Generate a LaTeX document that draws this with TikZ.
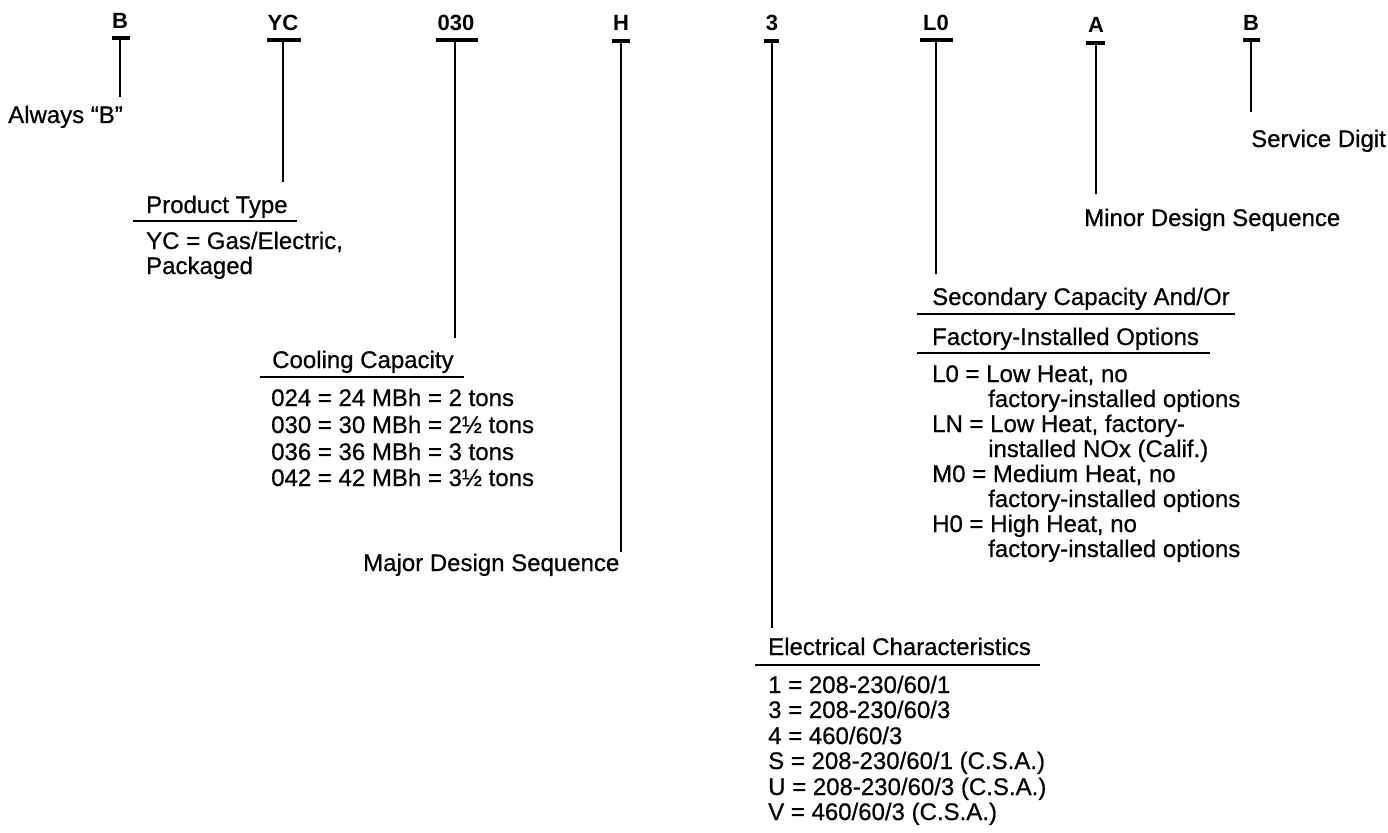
\documentclass[tikz,border=0pt]{standalone}
\usepackage{fontspec}
\setmainfont{Liberation Sans}
\newfontfamily\lblfont{Liberation Sans}[FakeBold=0.6]
\begin{document}
\begin{tikzpicture}[x=1pt,y=-1pt,
  code/.style={font=\fontsize{22}{22}\selectfont\bfseries, inner sep=0, anchor=base},
  lbl/.style={font=\lblfont\fontsize{24}{25}\selectfont, anchor=base west, inner sep=0},
  bar/.style={line width=3.5pt},
  stem/.style={line width=2.6pt},
  rulel/.style={line width=1.6pt}]
\useasboundingbox[fill=white] (0,0) rectangle (1388,832);

% ---- code characters
\node[code] (cB)  at (120,29) {B};
\node[code] (cYC) at (283,31) {YC};
\node[code] (c030) at (456,31) {030};
\node[code] (cH)  at (621,31) {H};
\node[code] (c3)  at (772,31) {3};
\node[code] (cL0) at (936,31) {L0};
\node[code] (cA)  at (1096,33) {A};
\node[code] (cB2) at (1251,31) {B};

% ---- bars
\coordinate (tB) at (120,38);   \draw[bar] (112,38) -- (130,38);
\coordinate (tYC) at (283,40);  \draw[bar] (267,40) -- (301,40);
\coordinate (t030) at (455,40); \draw[bar] (436,40) -- (478,40);
\coordinate (tH) at (621,41);   \draw[bar] (612,41) -- (630,41);
\coordinate (t3) at (772,41);   \draw[bar] (764,41) -- (779,41);
\coordinate (tL0) at (936,40);  \draw[bar] (920,40) -- (953,40);
\coordinate (tA) at (1096,43);  \draw[bar] (1086,43) -- (1105,43);
\coordinate (tB2) at (1251,40); \draw[bar] (1243,40) -- (1260,40);

% ---- stem ends
\coordinate (eB) at (120,97);
\coordinate (eYC) at (283,182);
\coordinate (e030) at (455,338);
\coordinate (eH) at (621,552);
\coordinate (e3) at (772,628);
\coordinate (eL0) at (936,274);
\coordinate (eA) at (1096,194);
\coordinate (eB2) at (1251,112);

\draw[stem] (tB) -- (eB);
\draw[stem] (tYC) -- (eYC);
\draw[stem] (t030) -- (e030);
\draw[stem] (tH) -- (eH);
\draw[stem] (t3) -- (e3);
\draw[stem] (tL0) -- (eL0);
\draw[stem] (tA) -- (eA);
\draw[stem] (tB2) -- (eB2);

% ---- simple labels
\node[lbl] (always) at (8,123) {Always “B”};
\node[lbl] (service) at (1251,147) {Service Digit};
\node[lbl] (minor) at (1084,226) {Minor Design Sequence};
\node[lbl] (major) at (363,571) {Major Design Sequence};

% ---- product type
\node[lbl] (prod) at (146,213) {Product Type};
\draw[rulel] (133,221) -- (297,221);
\node[lbl] (prod1) at (146,249) {YC = Gas/Electric,};
\node[lbl] (prod2) at (146,274) {Packaged};

% ---- cooling capacity
\node[lbl] (cool) at (272,368) {Cooling Capacity};
\draw[rulel] (260,377) -- (464,377);
\node[lbl] (cool1) at (271,406) {024 = 24 MBh = 2 tons};
\node[lbl] (cool2) at (271,433) {030 = 30 MBh = 2½ tons};
\node[lbl] (cool3) at (271,460) {036 = 36 MBh = 3 tons};
\node[lbl] (cool4) at (271,486) {042 = 42 MBh = 3½ tons};

% ---- secondary capacity
\node[lbl] (sec) at (932,305) {Secondary Capacity And/Or};
\draw[rulel] (917,314) -- (1235,314);
\node[lbl] (fac) at (932,345) {Factory-Installed Options};
\draw[rulel] (917,353) -- (1210,353);
\node[lbl] (s1) at (932,382) {L0 = Low Heat, no};
\node[lbl] (s1b) at (988,407) {factory-installed options};
\node[lbl] (s2) at (932,432) {LN = Low Heat, factory-};
\node[lbl] (s2b) at (988,457) {installed NOx (Calif.)};
\node[lbl] (s3) at (932,482) {M0 = Medium Heat, no};
\node[lbl] (s3b) at (988,507) {factory-installed options};
\node[lbl] (s4) at (932,532) {H0 = High Heat, no};
\node[lbl] (s4b) at (988,557) {factory-installed options};

% ---- electrical
\node[lbl] (el) at (768,655) {Electrical Characteristics};
\draw[rulel] (755,665) -- (1040,665);
\node[lbl] (el1) at (768,693) {1 = 208-230/60/1};
\node[lbl] (el2) at (768,718) {3 = 208-230/60/3};
\node[lbl] (el3) at (768,744) {4 = 460/60/3};
\node[lbl] (el4) at (768,769) {S = 208-230/60/1 (C.S.A.)};
\node[lbl] (el5) at (768,795) {U = 208-230/60/3 (C.S.A.)};
\node[lbl] (el6) at (768,820) {V = 460/60/3 (C.S.A.)};
\end{tikzpicture}
\end{document}
